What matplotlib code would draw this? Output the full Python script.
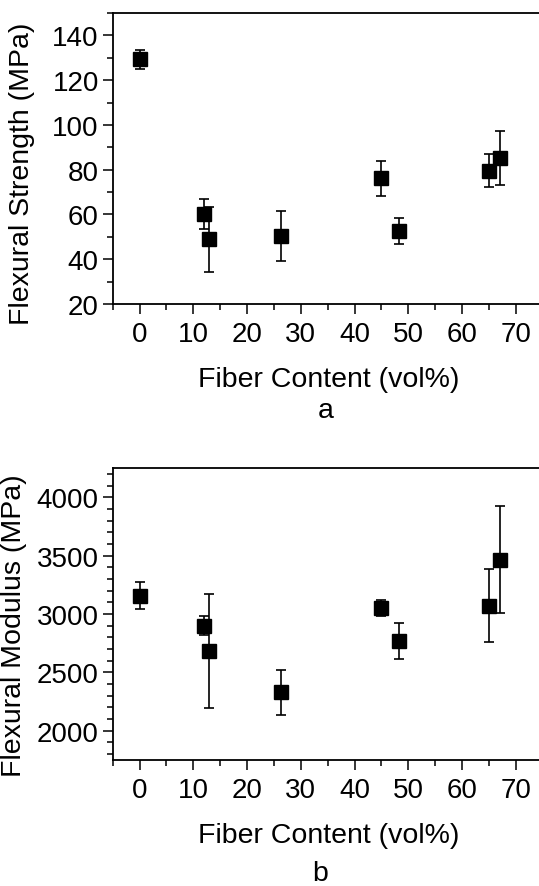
import matplotlib
matplotlib.use("Agg")
from matplotlib import pyplot as plt
from matplotlib.ticker import MultipleLocator

plt.rcParams['font.family'] = ['Liberation Sans', 'DejaVu Sans']

fiber = [0, 12, 13, 26.4, 45, 48.3, 65, 67]

strength = [129.3, 60.0, 48.9, 50.4, 76.2, 52.6, 79.5, 85.3]
strength_err = [4.2, 6.7, 14.5, 11.2, 7.9, 6.0, 7.4, 12.2]

modulus = [3157, 2900, 2686, 2329, 3049, 2766, 3071, 3466]
modulus_err = [114, 83, 487, 192, 70, 155, 312, 460]

FS = 20.5      # axis labels
TS = 20        # tick labels

fig = plt.figure(figsize=(5.39, 8.87), dpi=100)
ax1 = fig.add_axes([0.209, 0.6561, 0.798, 0.3281])
ax2 = fig.add_axes([0.209, 0.1421, 0.798, 0.3291])


def style(ax, h):
    for s in ax.spines.values():
        s.set_linewidth(1.3)
    ax.set_xlim(-5, 75)
    ax.xaxis.set_major_locator(MultipleLocator(10))
    ax.xaxis.set_minor_locator(MultipleLocator(5))
    ax.tick_params(which='major', direction='out', length=7.5, width=1.1,
                   labelsize=TS, top=False, right=False, pad=2.5)
    ax.tick_params(which='minor', direction='out', length=4, width=1.1,
                   top=False, right=False)
    ax.tick_params(axis='x', pad=5)
    ax.set_xlabel("Fiber Content (vol%)", fontsize=FS, va='center')
    # xlabel centre about 75 px below the bottom spine
    ax.xaxis.set_label_coords(0.503, -75 / h)


ax1.errorbar(fiber, strength, yerr=strength_err, fmt='s', color='black',
             markersize=9.5, capsize=3.6, elinewidth=1.2, capthick=1.2)
style(ax1, 291)
ax1.set_ylim(20, 150)
ax1.yaxis.set_major_locator(MultipleLocator(20))
ax1.yaxis.set_minor_locator(MultipleLocator(10))

ax2.errorbar(fiber, modulus, yerr=modulus_err, fmt='s', color='black',
             markersize=9.5, capsize=3.6, elinewidth=1.2, capthick=1.2)
style(ax2, 292)
ax2.set_ylim(1750, 4250)
ax2.yaxis.set_major_locator(MultipleLocator(500))
ax2.yaxis.set_minor_locator(MultipleLocator(100))

fig.text(22 / 539, 1 - 174 / 887, "Flexural Strength (MPa)", rotation=90,
         ha='center', va='center', fontsize=FS)
fig.text(14 / 539, 1 - 626 / 887, "Flexural Modulus (MPa)", rotation=90,
         ha='center', va='center', fontsize=FS)

fig.text(326 / 539, 1 - 411 / 887, "a", ha='center', va='center', fontsize=FS)
fig.text(320 / 539, 1 - 874 / 887, "b", ha='center', va='center', fontsize=FS)

fig.savefig("out.png", dpi=100)
